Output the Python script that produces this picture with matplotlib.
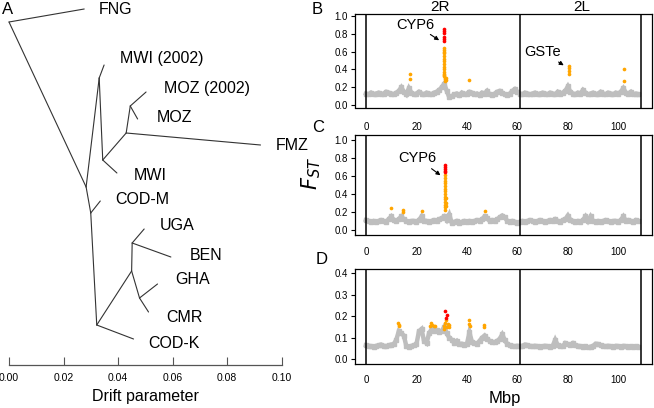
import matplotlib
matplotlib.use("Agg")
import matplotlib.pyplot as plt
import numpy as np

plt.rcParams['font.family'] = ['Liberation Sans', 'DejaVu Sans']

# ---------------- Data: tree (drift parameter, vertical layout row) ----------------
node_names = ["R", "FNG", "N1", "N2", "MWI2002", "N8", "MWI", "N9", "FMZ", "N10",
              "MOZ2002", "MOZ", "N3", "CODM", "N4", "CODK", "N5", "N6", "UGA", "BEN",
              "N7", "GHA", "CMR"]
node_drift = [0.0000, 0.0276, 0.0283, 0.0331, 0.0349, 0.0344, 0.0396, 0.0430, 0.0923, 0.0445,
              0.0503, 0.0472, 0.0300, 0.0335, 0.0322, 0.0457, 0.0450, 0.0452, 0.0496, 0.0594,
              0.0479, 0.0545, 0.0512]
node_row = [22, 9, 187, 78, 65, 160, 173, 133, 145, 106,
            92, 119, 213, 201, 325, 339, 271, 243, 229, 257,
            298, 284, 312]
edges = [("R", "FNG"), ("R", "N1"), ("N1", "N2"), ("N2", "MWI2002"), ("N2", "N8"),
         ("N8", "MWI"), ("N8", "N9"), ("N9", "FMZ"), ("N9", "N10"), ("N10", "MOZ2002"),
         ("N10", "MOZ"), ("N1", "N3"), ("N3", "CODM"), ("N3", "N4"), ("N4", "CODK"),
         ("N4", "N5"), ("N5", "N6"), ("N6", "UGA"), ("N6", "BEN"), ("N5", "N7"),
         ("N7", "GHA"), ("N7", "CMR")]
tip_labels = ["FNG", "MWI (2002)", "MOZ (2002)", "MOZ", "FMZ", "MWI", "COD-M",
              "UGA", "BEN", "GHA", "CMR", "COD-K"]
label_x = [0.0331, 0.0408, 0.0570, 0.0544, 0.0978, 0.0456, 0.0390,
           0.0555, 0.0662, 0.0610, 0.0577, 0.0511]
label_row = [9, 59, 89, 117, 146, 176, 200, 226, 256, 280, 318, 343]
drift_ticks = [0.00, 0.02, 0.04, 0.06, 0.08, 0.10]

# ---------------- Data: FST scans (Mbp) ----------------
chrom_bounds = [0, 61, 109]
pos_mbp = list(range(0, 109))
fst_B_grey = [0.13,0.12,0.14,0.12,0.13,0.14,0.12,0.13,0.15,0.14,
              0.13,0.12,0.14,0.16,0.20,0.15,0.12,0.19,0.14,0.12,
              0.13,0.15,0.13,0.12,0.14,0.13,0.12,0.14,0.15,0.17,
              0.20,0.24,0.16,0.09,0.10,0.12,0.13,0.11,0.14,0.12,
              0.13,0.15,0.14,0.12,0.13,0.11,0.14,0.13,0.16,0.12,
              0.11,0.13,0.15,0.16,0.14,0.12,0.11,0.13,0.16,0.18,
              0.15,0.13,0.12,0.14,0.13,0.12,0.13,0.14,0.12,0.13,
              0.14,0.13,0.12,0.14,0.13,0.12,0.15,0.13,0.14,0.16,
              0.21,0.15,0.13,0.12,0.14,0.13,0.17,0.14,0.12,0.13,
              0.14,0.12,0.13,0.15,0.13,0.12,0.14,0.13,0.12,0.14,
              0.13,0.15,0.19,0.14,0.13,0.15,0.12,0.13,0.12]
fst_C_grey = [0.11,0.10,0.09,0.10,0.09,0.10,0.11,0.10,0.09,0.12,
              0.15,0.11,0.10,0.12,0.15,0.12,0.10,0.09,0.10,0.10,
              0.09,0.11,0.15,0.10,0.10,0.09,0.10,0.11,0.10,0.12,
              0.13,0.15,0.11,0.17,0.08,0.09,0.10,0.08,0.09,0.10,
              0.09,0.10,0.09,0.10,0.11,0.10,0.12,0.15,0.13,0.10,
              0.11,0.10,0.12,0.14,0.16,0.14,0.10,0.09,0.10,0.09,
              0.08,0.09,0.10,0.09,0.10,0.11,0.10,0.09,0.10,0.11,
              0.10,0.09,0.10,0.11,0.10,0.12,0.10,0.09,0.11,0.12,
              0.16,0.11,0.10,0.09,0.10,0.09,0.11,0.15,0.10,0.15,
              0.10,0.09,0.10,0.09,0.10,0.11,0.10,0.09,0.10,0.10,
              0.09,0.11,0.15,0.10,0.11,0.10,0.09,0.11,0.10]
fst_D_grey = [0.065,0.062,0.060,0.058,0.062,0.065,0.068,0.062,0.060,0.064,
              0.068,0.070,0.090,0.130,0.120,0.110,0.060,0.058,0.062,0.065,
              0.070,0.130,0.140,0.085,0.075,0.120,0.140,0.130,0.135,0.125,
              0.130,0.150,0.120,0.100,0.090,0.075,0.085,0.070,0.072,0.068,
              0.070,0.125,0.080,0.075,0.072,0.085,0.100,0.110,0.095,0.085,
              0.080,0.078,0.085,0.095,0.115,0.090,0.070,0.065,0.062,0.060,
              0.062,0.060,0.062,0.068,0.065,0.062,0.060,0.062,0.060,0.058,
              0.060,0.062,0.060,0.058,0.062,0.090,0.065,0.062,0.060,0.075,
              0.070,0.068,0.075,0.065,0.062,0.060,0.058,0.060,0.055,0.058,
              0.062,0.072,0.070,0.065,0.062,0.060,0.062,0.060,0.058,0.062,
              0.060,0.058,0.062,0.060,0.058,0.060,0.058,0.060,0.058]

B_orange_x = [17.3, 17.3] + [30.8]*13 + [31.2, 31.4, 31.6, 31.3, 31.8, 31.1] + [40.8] + [80.3]*4 + [102.3, 102.3]
B_orange_y = [0.29, 0.35,
              0.64, 0.62, 0.60, 0.58, 0.55, 0.52, 0.49, 0.46, 0.43, 0.40, 0.37, 0.35, 0.33,
              0.31, 0.29, 0.28, 0.27, 0.30, 0.34,
              0.28,
              0.44, 0.42, 0.38, 0.35,
              0.41, 0.27]
B_red_x = [30.8]*6
B_red_y = [0.85, 0.83, 0.81, 0.76, 0.74, 0.72]

C_orange_x = [10.0, 14.6, 14.6, 22.2, 47.3] + [31.2]*14 + [31.6, 31.6, 31.6]
C_orange_y = [0.24, 0.22, 0.20, 0.21, 0.21,
              0.61, 0.58, 0.55, 0.52, 0.49, 0.46, 0.43, 0.40, 0.37, 0.34, 0.31, 0.28, 0.25, 0.22,
              0.35, 0.30, 0.27]
C_red_x = [31.2]*5
C_red_y = [0.72, 0.70, 0.68, 0.66, 0.64]

D_orange_x = [12.8, 13.0, 13.2, 25.2, 25.8, 26.3, 27.0, 27.5,
              31.0, 31.0, 31.3, 31.6, 32.0, 32.5, 32.8, 32.8,
              41.0, 41.0, 41.1, 46.8, 46.9]
D_orange_y = [0.17, 0.16, 0.155, 0.155, 0.17, 0.16, 0.155, 0.155,
              0.14, 0.155, 0.17, 0.18, 0.15, 0.165, 0.16, 0.15,
              0.18, 0.165, 0.155, 0.16, 0.15]
D_red_x = [31.5, 32.2, 31.6]
D_red_y = [0.223, 0.205, 0.19]

mbp_ticks = [0, 20, 40, 60, 80, 100]

# ---------------- Figure ----------------
W, H = 654, 408
fig = plt.figure(figsize=(W/100, H/100), dpi=100)

def px_axes(l, t, r, b):
    return fig.add_axes([l/W, 1 - b/H, (r - l)/W, (b - t)/H])

def ftext(x, y, s, **kw):
    fig.text(x/W, 1 - y/H, s, **kw)

# ---- Panel A: tree ----
axA = px_axes(9, 0, 281.5, 365)
idx = {n: i for i, n in enumerate(node_names)}
for a, b in edges:
    axA.plot([node_drift[idx[a]], node_drift[idx[b]]],
             [node_row[idx[a]], node_row[idx[b]]],
             color='#333333', lw=0.8, solid_capstyle='round', clip_on=False)
for lab, lx, ly in zip(tip_labels, label_x, label_row):
    axA.text(lx, ly, lab, fontsize=11.5, ha='left', va='center', clip_on=False)
axA.set_xlim(0, 0.1)
axA.set_ylim(365, 0)
for s in ['left', 'top', 'right']:
    axA.spines[s].set_visible(False)
axA.spines['bottom'].set_color('#555555')
axA.spines['bottom'].set_linewidth(0.9)
axA.set_yticks([])
axA.set_xticks(drift_ticks)
axA.set_xticklabels([f"{t:.2f}" for t in drift_ticks])
axA.tick_params(axis='x', direction='in', length=6, width=0.8, color='#555555',
                labelsize=7.5, pad=6)
axA.set_xlabel("Drift parameter", fontsize=11.5, labelpad=4)
axA.patch.set_visible(False)

# ---- Right panels ----
def fst_panel(box, ylim, yticks, grey, ox, oy, rx, ry, xlab_pad):
    ax = px_axes(*box)
    ax.plot(pos_mbp, grey, color='#bebebe', lw=3.2, marker='s', ms=3.2,
            solid_joinstyle='miter', zorder=2)
    ax.scatter(ox, oy, s=7, color='orange', marker='o', lw=0, zorder=3)
    ax.scatter(rx, ry, s=7, color='red', marker='o', lw=0, zorder=4)
    for xb in chrom_bounds:
        ax.axvline(xb, color='black', lw=1.1, zorder=5)
    ax.set_xlim(-4.36, 113.36)
    ax.set_ylim(*ylim)
    ax.set_yticks(yticks)
    ax.set_yticklabels([f"{t:.1f}" for t in yticks])
    ax.set_xticks(mbp_ticks)
    ax.tick_params(axis='y', direction='out', length=3, width=0.8, labelsize=7, pad=2)
    ax.tick_params(axis='x', length=0, labelsize=7, pad=xlab_pad)
    for s in ax.spines.values():
        s.set_linewidth(0.9)
    return ax

axB = fst_panel((355, 14, 652, 107.5), (-0.026, 1.022), [0.0, 0.2, 0.4, 0.6, 0.8, 1.0],
                fst_B_grey, B_orange_x, B_orange_y, B_red_x, B_red_y, 10.5)
axC = fst_panel((355, 135, 652, 235), (-0.056, 1.056), [0.0, 0.2, 0.4, 0.6, 0.8, 1.0],
                fst_C_grey, C_orange_x, C_orange_y, C_red_x, C_red_y, 9)
axD = fst_panel((355, 269, 652, 364), (-0.022, 0.419), [0.0, 0.1, 0.2, 0.3, 0.4],
                fst_D_grey, D_orange_x, D_orange_y, D_red_x, D_red_y, 8)

arrowprops = dict(arrowstyle='-|>', color='black', lw=0.8, mutation_scale=6)
axB.annotate("", xy=(29.9, 0.71), xytext=(24.6, 0.81), arrowprops=arrowprops, zorder=6)
axB.text(19.6, 0.90, "CYP6", fontsize=10.5, ha='center', va='center')
axB.annotate("", xy=(79.3, 0.43), xytext=(75.4, 0.50), arrowprops=arrowprops, zorder=6)
axB.text(69.8, 0.60, "GSTe", fontsize=10.5, ha='center', va='center')
axC.annotate("", xy=(30.4, 0.59), xytext=(25.1, 0.70), arrowprops=arrowprops, zorder=6)
axC.text(20.3, 0.80, "CYP6", fontsize=10.5, ha='center', va='center')

# ---- Figure texts ----
ftext(7.5, 9, "A", fontsize=12, ha='center', va='center')
ftext(317.5, 10, "B", fontsize=12, ha='center', va='center')
ftext(318.5, 127.5, "C", fontsize=12, ha='center', va='center')
ftext(321.5, 259, "D", fontsize=12, ha='center', va='center')
ftext(440, 7, "2R", fontsize=11, ha='center', va='center')
ftext(582, 7, "2L", fontsize=11, ha='center', va='center')
ftext(505, 399, "Mbp", fontsize=12, ha='center', va='center')
ftext(311, 173, r"$F_{ST}$", fontsize=15, ha='center', va='center', rotation=90)

fig.savefig("out.png", dpi=100)
